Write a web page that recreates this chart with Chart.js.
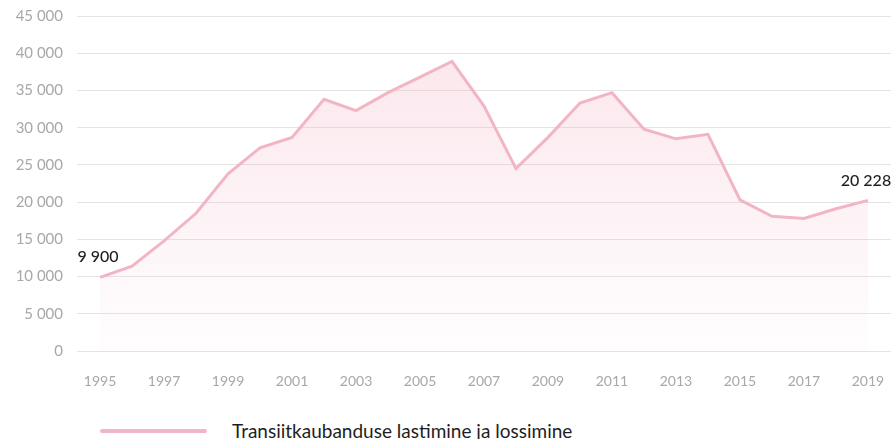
<!DOCTYPE html>
<html>
<head>
<meta charset="utf-8">
<script src="https://cdn.jsdelivr.net/npm/chart.js@4.4.1/dist/chart.umd.min.js"></script>
<style>
    html, body { margin: 0; padding: 0; background: #fff; }
    #wrap { position: relative; width: 891px; height: 439px; overflow: hidden; }
    #chart { position: absolute; left: 0; top: 0; }
    .legend { position: absolute; left: 100px; top: 419px; display: flex; align-items: center; font-family: Lato, "Open Sans", sans-serif; font-size: 19px; line-height: 24px; color: #1e1e1e; }
    .legend .swatch { width: 107px; height: 4px; background: #f2b5c4; border-radius: 2px; margin-right: 25px; }
</style>
</head>
<body>
<div id="wrap">
    <canvas id="chart" width="891" height="405"></canvas>
    <div class="legend"><span class="swatch"></span><span>Transiitkaubanduse lastimine ja lossimine</span></div>
</div>
<script>
// andmed (loetud jooniselt)
const years = [1995, 1996, 1997, 1998, 1999, 2000, 2001, 2002, 2003, 2004, 2005, 2006,
    2007, 2008, 2009, 2010, 2011, 2012, 2013, 2014, 2015, 2016, 2017, 2018, 2019];
const values = [9900, 11400, 14800, 18500, 23800, 27300, 28700, 33800, 32300, 34700, 36800, 38900,
    32900, 24500, 28700, 33300, 34700, 29800, 28500, 29100, 20300, 18100, 17800, 19100, 20228];
const xTickYears = [1995, 1997, 1999, 2001, 2003, 2005, 2007, 2009, 2011, 2013, 2015, 2017, 2019];
const yTicks = [0, 5000, 10000, 15000, 20000, 25000, 30000, 35000, 40000, 45000];
const seriesLabel = 'Transiitkaubanduse lastimine ja lossimine';

const lineColor = '#f2b5c4';
const tickColor = '#a8a8a8';
const gridColor = '#e4e4e4';

// tuhandete eraldaja tühikuga
function fmt(v) {
    return String(Math.round(v)).replace(/\B(?=(\d{3})+(?!\d))/g, ' ');
}

// esimese ja viimase punkti väärtused
const endLabels = {
    id: 'endLabels',
    afterDatasetsDraw(chart) {
        const meta = chart.getDatasetMeta(0);
        const ctx = chart.ctx;
        ctx.save();
        ctx.font = '500 16px Lato, "Open Sans", sans-serif';
        ctx.fillStyle = '#1e1e1e';
        ctx.textAlign = 'center';
        ctx.textBaseline = 'bottom';
        [0, values.length - 1].forEach(i => {
            const p = meta.data[i];
            ctx.fillText(fmt(values[i]), p.x - 2, p.y - 12);
        });
        ctx.restore();
    }
};

const ctx = document.getElementById('chart').getContext('2d');
new Chart(ctx, {
    type: 'line',
    data: {
        datasets: [{
            label: seriesLabel,
            data: years.map((y, i) => ({ x: y, y: values[i] })),
            borderColor: lineColor,
            borderWidth: 3,
            pointRadius: 0,
            tension: 0,
            fill: 'origin',
            backgroundColor: (c) => {
                const area = c.chart.chartArea;
                if (!area) return 'rgba(242,181,196,0.2)';
                const g = c.chart.ctx.createLinearGradient(0, area.top + 40, 0, area.bottom);
                g.addColorStop(0, 'rgba(242,170,190,0.28)');
                g.addColorStop(1, 'rgba(242,170,190,0.02)');
                return g;
            }
        }]
    },
    options: {
        responsive: false,
        animation: false,
        layout: { padding: { top: 16, right: 0, bottom: 0, left: 0 } },
        plugins: { legend: { display: false }, tooltip: { enabled: false } },
        scales: {
            x: {
                type: 'linear',
                min: 1994.28,
                max: 2019.72,
                grid: { display: false, drawTicks: false },
                border: { display: false },
                afterBuildTicks: (s) => { s.ticks = xTickYears.map(v => ({ value: v })); },
                afterFit: (s) => { s.height = 54; s.paddingLeft = 0; s.paddingRight = 0; },
                ticks: {
                    color: tickColor,
                    padding: 22,
                    maxRotation: 0,
                    autoSkip: false,
                    font: { family: 'Lato, "Open Sans", sans-serif', size: 14 },
                    callback: (v) => String(v)
                }
            },
            y: {
                min: 0,
                max: 45000,
                grid: { color: gridColor, lineWidth: 1, drawTicks: false },
                border: { display: false },
                afterBuildTicks: (s) => { s.ticks = yTicks.map(v => ({ value: v })); },
                afterFit: (s) => { s.width = 77; s.paddingTop = 0; s.paddingBottom = 0; },
                ticks: {
                    color: tickColor,
                    padding: 14,
                    font: { family: 'Lato, "Open Sans", sans-serif', size: 15 },
                    callback: (v) => fmt(v)
                }
            }
        }
    },
    plugins: [endLabels]
});
</script>
</body>
</html>
